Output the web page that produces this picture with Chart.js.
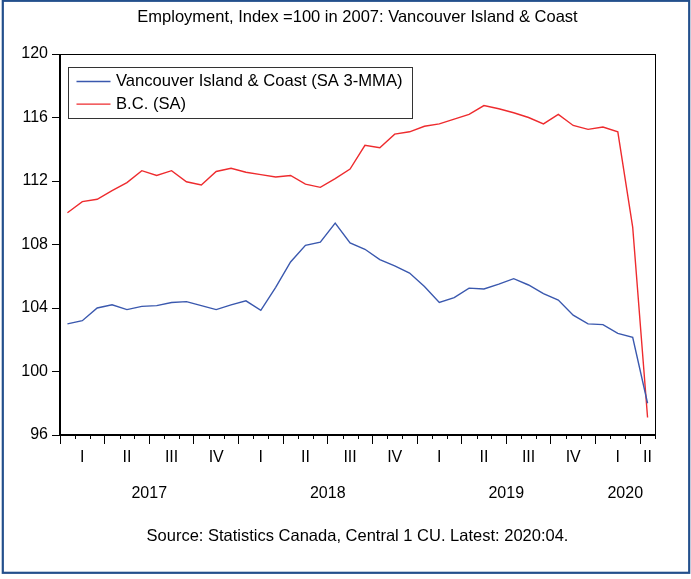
<!DOCTYPE html>
<html>
<head>
<meta charset="utf-8">
<script src="https://cdn.jsdelivr.net/npm/chart.js@4.4.1/dist/chart.umd.min.js"></script>
<style>
  html, body { margin: 0; padding: 0; background: #fff; }
  #wrap { width: 691px; height: 579px; }
</style>
</head>
<body>
<div id="wrap"><canvas id="chart" width="691" height="579"></canvas></div>
<script>
// monthly, 2017:01 .. 2020:04
const months = [
  "2017:01","2017:02","2017:03","2017:04","2017:05","2017:06","2017:07","2017:08","2017:09","2017:10","2017:11","2017:12",
  "2018:01","2018:02","2018:03","2018:04","2018:05","2018:06","2018:07","2018:08","2018:09","2018:10","2018:11","2018:12",
  "2019:01","2019:02","2019:03","2019:04","2019:05","2019:06","2019:07","2019:08","2019:09","2019:10","2019:11","2019:12",
  "2020:01","2020:02","2020:03","2020:04"
];
const quarterNames = ["I", "II", "III", "IV"];

const islandCoast = [
  103.0, 103.2, 104.0, 104.2, 103.9, 104.1, 104.15, 104.35, 104.4, 104.15, 103.9, 104.2,
  104.45, 103.85, 105.3, 106.9, 107.95, 108.15, 109.35, 108.1, 107.7, 107.05, 106.65, 106.2,
  105.35, 104.35, 104.65, 105.25, 105.2, 105.5, 105.85, 105.45, 104.9, 104.5, 103.55, 103.0,
  102.95, 102.4, 102.15, 98.0
];
const bcTotal = [
  110.0, 110.7, 110.85, 111.4, 111.9, 112.65, 112.35, 112.65, 111.95, 111.75, 112.6, 112.8,
  112.55, 112.4, 112.25, 112.35, 111.8, 111.6, 112.15, 112.75, 114.25, 114.1, 114.95, 115.1,
  115.45, 115.6, 115.9, 116.2, 116.75, 116.55, 116.3, 116.0, 115.6, 116.2, 115.5, 115.25,
  115.4, 115.1, 109.1, 97.1
];

const FONT = '"Liberation Sans", Arial, sans-serif';
const BLUE = "#3a58ae";
const RED = "#ee2b2e";

// year labels centred under each year's months
const years = [];
months.forEach((m, i) => {
  const y = m.slice(0, 4);
  let last = years[years.length - 1];
  if (!last || last.name !== y) { last = { name: y, first: i, count: 0 }; years.push(last); }
  last.count++;
});

const framePlugin = {
  id: "frame",
  beforeDraw(chart) {
    const ctx = chart.ctx;
    ctx.save();
    ctx.fillStyle = "#fff";
    ctx.fillRect(0, 0, chart.width, chart.height);
    ctx.restore();
  },
  afterDraw(chart) {
    const ctx = chart.ctx;
    const a = chart.chartArea;
    const x = chart.scales.x;
    ctx.save();
    // plot box
    ctx.strokeStyle = "#000";
    ctx.lineWidth = 1;
    ctx.strokeRect(Math.round(a.left) - 0.5, Math.round(a.top) + 0.5,
      Math.round(a.right - a.left) + 1, Math.round(a.bottom - a.top) - 1);
    // short month ticks
    const n = months.length;
    const step = (x.right - x.left) / n;
    ctx.beginPath();
    for (let i = 0; i <= n; i++) {
      if (i % 3 === 0) continue;
      const px = Math.round(x.left + i * step) + 0.5;
      ctx.moveTo(px, a.bottom);
      ctx.lineTo(px, a.bottom + 4);
    }
    ctx.stroke();
    // legend box
    const lx = a.left + 8.5, ly = a.top + 13.5;
    ctx.strokeStyle = "#333";
    ctx.strokeRect(lx, ly, 344, 51);
    ctx.font = "16.6px " + FONT;
    ctx.textBaseline = "middle";
    ctx.fillStyle = "#000";
    chart.data.datasets.forEach((ds, k) => {
      const yy = ly + 14 + k * 22.7;
      ctx.strokeStyle = ds.borderColor;
      ctx.lineWidth = 1.3;
      ctx.beginPath();
      ctx.moveTo(lx + 8, yy);
      ctx.lineTo(lx + 42, yy);
      ctx.stroke();
      ctx.fillText(ds.label, lx + 47.5, yy);
    });
    // outer frame
    ctx.strokeStyle = "#234f8c";
    ctx.lineWidth = 2.2;
    ctx.strokeRect(2.8, 0.8, 686.4, 572);
    ctx.restore();
  }
};

new Chart(document.getElementById("chart"), {
  type: "line",
  data: {
    labels: months,
    datasets: [
      { label: "Vancouver Island & Coast (SA 3-MMA)", data: islandCoast, borderColor: BLUE,
        borderWidth: 1.4, pointRadius: 0, tension: 0 },
      { label: "B.C. (SA)", data: bcTotal, borderColor: RED,
        borderWidth: 1.4, pointRadius: 0, tension: 0 }
    ]
  },
  options: {
    responsive: false,
    animation: false,
    layout: { padding: { left: 0, right: 36, top: 0, bottom: 0 } },
    plugins: {
      legend: { display: false },
      tooltip: { enabled: false },
      title: {
        display: true, fullSize: false,
        text: "Employment, Index =100 in 2007: Vancouver Island & Coast",
        color: "#000", font: { family: FONT, size: 16.5, weight: "normal" },
        padding: { top: 7.5, bottom: 26.7 }
      },
      subtitle: {
        display: true, fullSize: false, position: "bottom",
        text: "Source: Statistics Canada, Central 1 CU. Latest: 2020:04.",
        color: "#000", font: { family: FONT, size: 16.5, weight: "normal" },
        padding: { top: 16.1, bottom: 33.1 }
      }
    },
    scales: {
      x: {
        type: "category",
        offset: true,
        grid: {
          offset: true, drawOnChartArea: false, tickLength: 9,
          tickColor: (c) => (c.index % 3 === 0 ? "#000" : "rgba(0,0,0,0)")
        },
        border: { display: true, color: "#000" },
        ticks: {
          autoSkip: false, maxRotation: 0, padding: 4, color: "#000",
          font: { family: FONT, size: 16 },
          callback: (v, i) => {
            const pos = i % 3;
            if (pos === 1 || (i === months.length - 1 && pos === 0)) {
              return quarterNames[Math.floor(i / 3) % 4];
            }
            return "";
          }
        },
        afterFit: (s) => { s.height = 30; }
      },
      yr: {
        type: "linear",
        position: "bottom",
        min: 0,
        max: months.length,
        grid: { display: false, drawTicks: false },
        border: { display: false },
        ticks: {
          autoSkip: false, maxRotation: 0, padding: 19.2, color: "#000",
          font: { family: FONT, size: 16 },
          callback: (v, i) => years[i] ? years[i].name : ""
        },
        afterBuildTicks: (s) => {
          s.ticks = years.map((y) => ({ value: y.first + y.count / 2 }));
        },
        afterFit: (s) => { s.height = 45; }
      },
      y: {
        min: 96,
        max: 120,
        grid: { drawOnChartArea: false, tickLength: 8, tickColor: "#000" },
        border: { display: true, color: "#000" },
        ticks: { stepSize: 4, padding: 4, color: "#000", font: { family: FONT, size: 16 } },
        afterFit: (s) => { s.width = 60; }
      }
    }
  },
  plugins: [framePlugin]
});
</script>
</body>
</html>
